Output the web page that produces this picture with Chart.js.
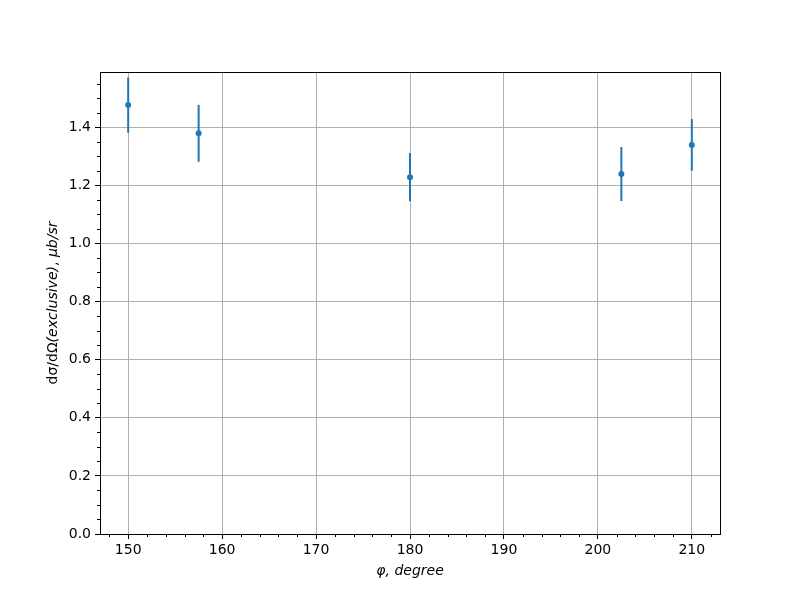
<!DOCTYPE html>
<html>
<head>
<meta charset="utf-8">
<script src="https://cdn.jsdelivr.net/npm/chart.js@4/dist/chart.umd.min.js"></script>
<style>
  html, body { margin: 0; padding: 0; background: #fff; }
</style>
</head>
<body>
<canvas id="chart" width="800" height="600"></canvas>
<script>
// ====================== DATA ======================
const phiDeg = [150, 157.5, 180, 202.5, 210];
const dSigma = [1.476, 1.379, 1.228, 1.239, 1.339];
const dSigmaErr = [0.095, 0.098, 0.083, 0.093, 0.089];

const xTitle = "φ, degree";
// y title pieces: [text, italic]
const yTitleParts = [["dσ/dΩ", false], ["(exclusive)", true], [", ", false], ["μb/sr", true]];

const FONT = "DejaVu Sans";
const BLUE = "#1f77b4";

// ====================== PLUGINS ======================
// error bars, drawn under the markers
const errorBars = {
  id: "errorBars",
  beforeDatasetsDraw(chart) {
    const ctx = chart.ctx;
    const xs = chart.scales.x, ys = chart.scales.y;
    ctx.save();
    ctx.strokeStyle = BLUE;
    ctx.lineWidth = 2;
    phiDeg.forEach((x, i) => {
      const px = xs.getPixelForValue(x);
      ctx.beginPath();
      ctx.moveTo(px, ys.getPixelForValue(dSigma[i] - dSigmaErr[i]));
      ctx.lineTo(px, ys.getPixelForValue(dSigma[i] + dSigmaErr[i]));
      ctx.stroke();
    });
    ctx.restore();
  }
};

// spines, minor ticks and axis titles
const frame = {
  id: "frame",
  afterDraw(chart) {
    const ctx = chart.ctx;
    const a = chart.chartArea;
    const xs = chart.scales.x, ys = chart.scales.y;
    ctx.save();
    ctx.strokeStyle = "#000";
    ctx.lineWidth = 1;

    // minor ticks
    ctx.beginPath();
    for (let v = 148; v <= 212; v += 2) {
      if (v % 10 === 0) continue;
      const px = Math.round(xs.getPixelForValue(v)) + 0.5;
      ctx.moveTo(px, a.bottom);
      ctx.lineTo(px, a.bottom + 3);
    }
    for (let k = 1; k * 0.05 <= 1.59; k++) {
      if (k % 4 === 0) continue;
      const py = Math.round(ys.getPixelForValue(k * 0.05)) + 0.5;
      ctx.moveTo(a.left, py);
      ctx.lineTo(a.left - 3, py);
    }
    ctx.stroke();

    // spines
    ctx.strokeRect(Math.round(a.left) + 0.5, Math.round(a.top) + 0.5,
      Math.round(a.right - a.left), Math.round(a.bottom - a.top));

    // x title
    ctx.fillStyle = "#000";
    ctx.font = "italic 14px '" + FONT + "'";
    ctx.textAlign = "center";
    ctx.textBaseline = "middle";
    ctx.fillText(xTitle, (a.left + a.right) / 2, 571);

    // y title (mixed styles)
    ctx.translate(53, (a.top + a.bottom) / 2);
    ctx.rotate(-Math.PI / 2);
    const fonts = yTitleParts.map(p => (p[1] ? "italic " : "") + "14px '" + FONT + "'");
    let total = 0;
    const widths = yTitleParts.map((p, i) => { ctx.font = fonts[i]; const w = ctx.measureText(p[0]).width; total += w; return w; });
    let x = -total / 2;
    ctx.textAlign = "left";
    yTitleParts.forEach((p, i) => {
      ctx.font = fonts[i];
      ctx.fillText(p[0], x, 0);
      x += widths[i];
    });
    ctx.restore();
  }
};

// ====================== CHART ======================
new Chart(document.getElementById("chart"), {
  type: "scatter",
  data: {
    datasets: [{
      data: phiDeg.map((x, i) => ({ x: x, y: dSigma[i] })),
      backgroundColor: BLUE,
      borderWidth: 0,
      pointRadius: 3,
      pointHoverRadius: 3
    }]
  },
  options: {
    responsive: false,
    devicePixelRatio: 1,
    animation: false,
    layout: { padding: { top: 72, right: 80, left: 0, bottom: 0 } },
    plugins: { legend: { display: false }, tooltip: { enabled: false } },
    scales: {
      x: {
        type: "linear",
        min: 147,
        max: 213,
        afterFit(s) { s.height = 66; },
        border: { display: false },
        grid: { color: "#b0b0b0", lineWidth: 1, tickLength: 5, tickColor: "#000", drawTicks: true },
        ticks: {
          stepSize: 10,
          includeBounds: false,
          color: "#000",
          padding: 3,
          maxRotation: 0,
          font: { family: FONT, size: 14 },
          callback: v => String(v)
        }
      },
      y: {
        type: "linear",
        min: 0,
        max: 1.59,
        afterFit(s) { s.width = 100; },
        border: { display: false },
        grid: { color: "#b0b0b0", lineWidth: 1, tickLength: 5, tickColor: "#000", drawTicks: true },
        ticks: {
          stepSize: 0.2,
          includeBounds: false,
          color: "#000",
          padding: 4,
          font: { family: FONT, size: 14 },
          callback: v => v.toFixed(1)
        }
      }
    }
  },
  plugins: [errorBars, frame]
});
</script>
</body>
</html>
